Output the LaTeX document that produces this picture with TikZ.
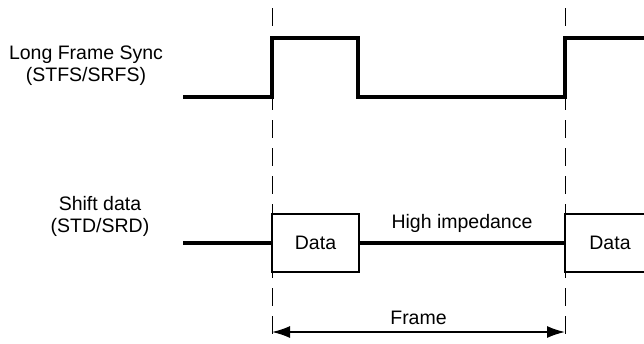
\documentclass[tikz,border=0pt]{standalone}
\usepackage{fontspec}
\setmainfont{Liberation Sans}
\usetikzlibrary{arrows.meta}
\begin{document}
\begin{tikzpicture}[x=1pt,y=-1pt,
  sig/.style={line width=4pt, line join=miter},
  guide/.style={line width=1pt, dash pattern=on 18pt off 10pt},
  databox/.style={draw, line width=1.8pt, minimum width=87pt, minimum height=58pt, inner sep=0pt, font=\fontsize{19.5}{22}\selectfont},
  lbl/.style={font=\fontsize{19.5}{22}\selectfont, align=center, inner sep=0pt},
  span/.style={line width=1.6pt, {Latex[length=18pt,width=12pt]}-{Latex[length=18pt,width=12pt]}}]
\useasboundingbox (0,0) rectangle (644,343);
% guides
\coordinate (g1t) at (272,8);
\coordinate (g1b) at (272,343);
\coordinate (g2t) at (565,8);
\coordinate (g2b) at (565,343);
\draw[guide] (g1t) -- (g1b);
\draw[guide] (g2t) -- (g2b);
% labels
\node[lbl] (lfs) at (86,66) {Long Frame Sync\\(STFS/SRFS)};
\node[lbl] (sd) at (100,216) {Shift data\\(STD/SRD)};
% frame sync waveform
\draw[sig] (183,97) -- (272,97) -- (272,38) -- (358,38) -- (358,97) -- (565,97) -- (565,38) -- (650,38);
% data line
\node[databox] (d1) at (315.5,243) {Data};
\node[databox, minimum width=90pt] (d2) at (610,243) {Data};
\coordinate (s0) at (183,243);
\draw[sig] (s0) -- (d1.west);
\draw[sig] (d1.east) -- (d2.west) node[lbl, midway, above=8pt] (hi) {High impedance};
% frame arrow
\coordinate (f1) at (272,332);
\coordinate (f2) at (565,332);
\draw[span] (f1) -- (f2) node[lbl, midway, above=7pt] (fr) {Frame};
\end{tikzpicture}
\end{document}
